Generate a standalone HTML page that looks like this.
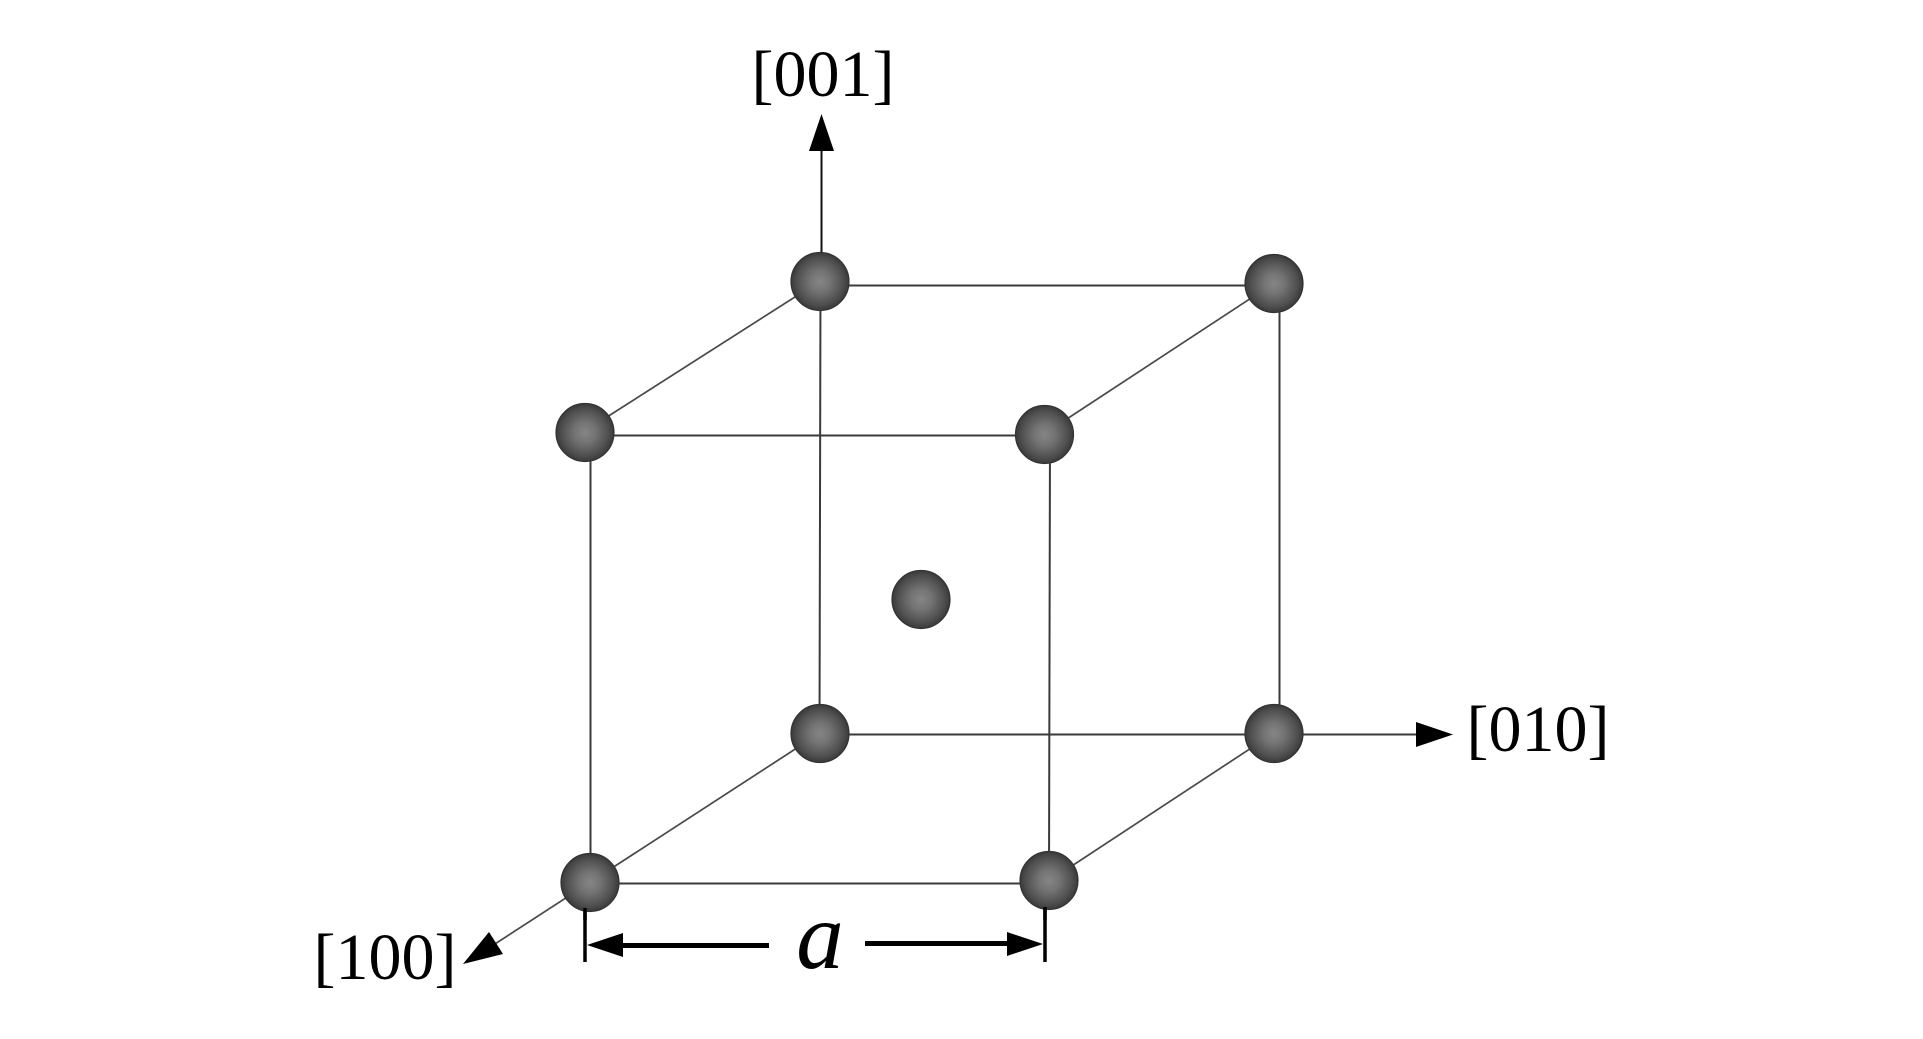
<!DOCTYPE html>
<html>
<head>
<meta charset="utf-8">
<style>
html,body{margin:0;padding:0;background:#fff;}
svg{display:block;}
text{font-family:"Liberation Serif",serif;fill:#000;}
</style>
</head>
<body>
<svg width="1923" height="1039" viewBox="0 0 1923 1039" xmlns="http://www.w3.org/2000/svg">
<defs>
<radialGradient id="b" cx="50%" cy="50%" r="50%">
<stop offset="0" stop-color="#858585"/>
<stop offset="0.35" stop-color="#747474"/>
<stop offset="0.8" stop-color="#4f4f4f"/>
<stop offset="1" stop-color="#3a3a3a"/>
</radialGradient>
</defs>
<g stroke="#3a3a3a" stroke-width="2" fill="none">
<line x1="820" y1="285.5" x2="1274" y2="285.5"/>
<line x1="585" y1="435.5" x2="1044" y2="435.5"/>
<line x1="820" y1="734.5" x2="1274" y2="734.5"/>
<line x1="590" y1="883.5" x2="1049" y2="883.5"/>
<line x1="820.5" y1="281" x2="819.5" y2="733"/>
<line x1="1279.5" y1="283" x2="1279.5" y2="733"/>
<line x1="590.5" y1="431" x2="590.5" y2="882"/>
<line x1="1050" y1="434" x2="1049" y2="881"/>
</g>
<g stroke="#484848" stroke-width="1.7" fill="none">
<line x1="820" y1="281" x2="585" y2="431"/>
<line x1="1274" y1="283" x2="1044" y2="434"/>
<line x1="1274" y1="733" x2="1049" y2="881"/>
<line x1="820" y1="733" x2="478" y2="955"/>
</g>
<line x1="1274" y1="734.5" x2="1420" y2="734.5" stroke="#3a3a3a" stroke-width="2"/>
<line x1="821.5" y1="148" x2="821.5" y2="255" stroke="#111" stroke-width="2"/>
<polygon points="821.5,114 809,151 834,151" fill="#000"/>
<polygon points="1453,734.5 1416,722 1416,747" fill="#000"/>
<polygon points="463,964 489,932 503,954" fill="#000"/>
<g stroke="#000" stroke-width="3.5" fill="none">
<line x1="585" y1="908" x2="585" y2="962"/>
<line x1="1045" y1="907" x2="1045" y2="962"/>
</g>
<polygon points="587,945 623,933 623,957" fill="#000"/>
<rect x="620" y="943" width="149" height="5" fill="#000"/>
<polygon points="1043,944 1007,932 1007,956" fill="#000"/>
<rect x="865" y="941" width="145" height="5" fill="#000"/>
<g fill="url(#b)" stroke="#333" stroke-width="1.2">
<circle cx="820" cy="281.5" r="29"/>
<circle cx="1274" cy="283.5" r="29"/>
<circle cx="585" cy="432.5" r="29"/>
<circle cx="1044.5" cy="434.5" r="29"/>
<circle cx="921" cy="599.5" r="29"/>
<circle cx="820" cy="733.5" r="29"/>
<circle cx="1274" cy="733.5" r="29"/>
<circle cx="590" cy="882.5" r="29"/>
<circle cx="1049" cy="880.5" r="29"/>
</g>
<line x1="585" y1="908" x2="585" y2="920" stroke="#000" stroke-width="3.5"/>
<line x1="1045" y1="907" x2="1045" y2="920" stroke="#000" stroke-width="3.5"/>
<text x="823" y="96" font-size="66" text-anchor="middle">[001]</text>
<text x="1538" y="751" font-size="66" text-anchor="middle">[010]</text>
<text x="385" y="979" font-size="66" text-anchor="middle">[100]</text>
<text x="820" y="968" font-size="95" font-style="italic" text-anchor="middle">a</text>
</svg>
</body>
</html>
